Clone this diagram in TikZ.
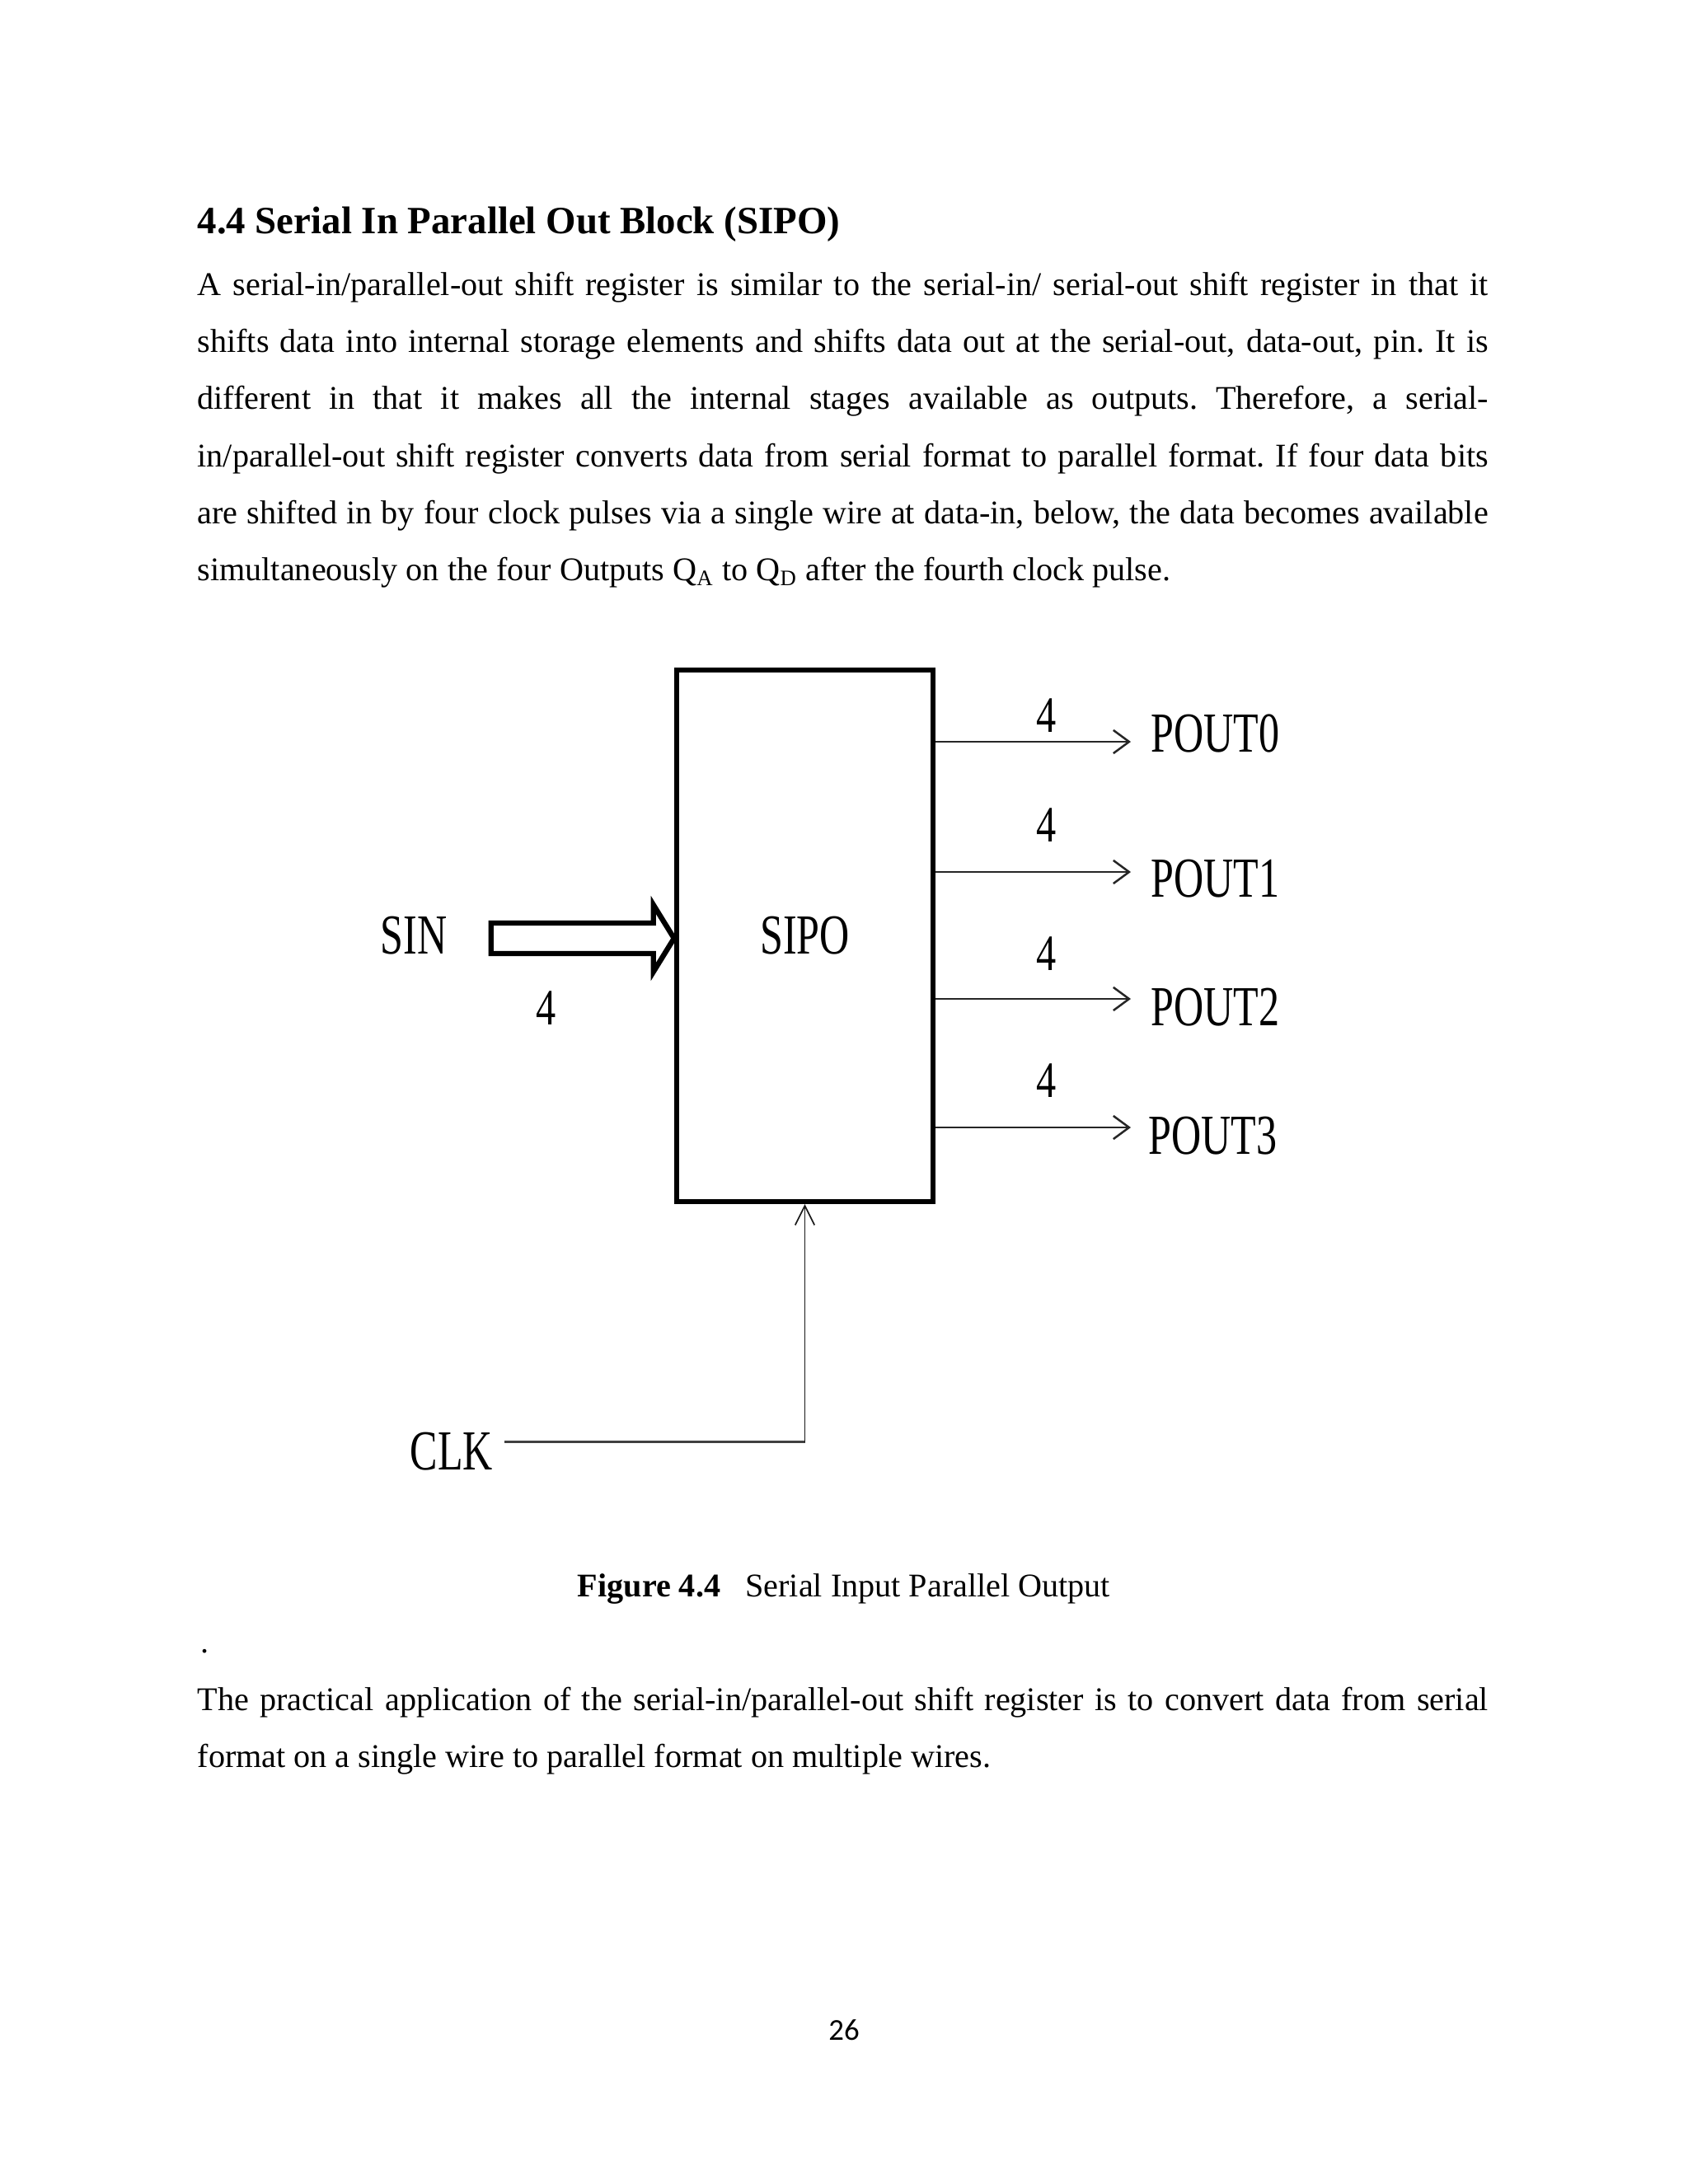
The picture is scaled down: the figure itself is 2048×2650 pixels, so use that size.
\documentclass[tikz,border=0pt]{standalone}
\usepackage{fontspec}
\usepackage{graphicx}
\setmainfont{Liberation Serif}
\newfontfamily\pagenumfont{Carlito}
\usetikzlibrary{arrows.meta}
\frenchspacing
\newcommand{\dglabel}[1]{{\fontsize{20.5}{20.5}\selectfont\scalebox{0.73}[1]{#1}}}
\newcommand{\dgnum}[1]{{\fontsize{18.5}{18.5}\selectfont\scalebox{0.78}[1]{#1}}}
\newcommand{\jline}[1]{\makebox[468pt][s]{#1}}
\tikzset{
  bodytext/.style={anchor=base west, inner sep=0pt, font=\fontsize{12}{14}\selectfont},
  headtext/.style={anchor=base west, inner sep=0pt, font=\fontsize{14}{16}\selectfont\bfseries},
  lbl/.style={anchor=base, inner sep=0pt},
  lblw/.style={anchor=base west, inner sep=0pt},
  blockbox/.style={draw, line width=1.9pt, minimum width=92.94pt, minimum height=192.75pt, inner sep=0pt},
  fatarrow/.style={draw, fill=white, line width=1.9pt, line join=miter},
  outwire/.style={draw=black!85, line width=0.75pt, -{Straight Barb[length=5.7pt, width=8.4pt]}},
  clkh/.style={draw=black!75, line width=1pt},
  clkv/.style={draw=black!90, line width=0.5pt, -{Straight Barb[length=7pt, width=7pt]}}
}
\begin{document}
\begin{tikzpicture}[x=0.29883pt, y=-0.29883pt]
\useasboundingbox (0,0) rectangle (2048,2650);
\fill[white] (0,0) rectangle (2048,2650);

% heading and paragraph
\node[headtext] (head) at (239,283) {4.4 Serial In Parallel Out Block (SIPO)};
\node[bodytext] (b1) at (239,358) {\jline{A serial-in/parallel-out shift register is similar to the serial-in/ serial-out shift register in that it}};
\node[bodytext] (b2) at (239,427) {\jline{shifts data into internal storage elements and shifts data out at the serial-out, data-out, pin. It is}};
\node[bodytext] (b3) at (239,496) {\jline{different in that it makes all the internal stages available as outputs. Therefore, a serial-}};
\node[bodytext] (b4) at (239,566) {\jline{in/parallel-out shift register converts data from serial format to parallel format. If four data bits}};
\node[bodytext] (b5) at (239,635) {\jline{are shifted in by four clock pulses via a single wire at data-in, below, the data becomes available}};
\node[bodytext] (b6) at (239,704) {simultaneously on the four Outputs Q\textsubscript{A} to Q\textsubscript{D} after the fourth clock pulse.};

% diagram
\node[blockbox] (sipo) at (976.5,1135.5) {\dglabel{SIPO}};
\node[lbl] (sin) at (502,1157) {\dglabel{SIN}};
\node[lbl] (sinw) at (663,1243) {\dgnum{4}};
\draw[fatarrow] ([yshift=-0.9pt]sipo.west) -- ++(-25,-40.5) -- ++(0,22) -- ++(-197,0) -- ++(0,37) -- ++(197,0) -- ++(0,22) -- cycle;

\coordinate (t0) at (1372,900);
\coordinate (t1) at (1372,1058);
\coordinate (t2) at (1372,1212);
\coordinate (t3) at (1372,1368);
\draw[outwire] (t0 -| sipo.east) -- (t0);
\draw[outwire] (t1 -| sipo.east) -- (t1);
\draw[outwire] (t2 -| sipo.east) -- (t2);
\draw[outwire] (t3 -| sipo.east) -- (t3);
\node[lbl] (w0) at (1270,888) {\dgnum{4}};
\node[lbl] (w1) at (1270,1021) {\dgnum{4}};
\node[lbl] (w2) at (1270,1177) {\dgnum{4}};
\node[lbl] (w3) at (1270,1331) {\dgnum{4}};
\node[lblw] (p0) at (1396,912) {\dglabel{POUT0}};
\node[lblw] (p1) at (1396,1088) {\dglabel{POUT1}};
\node[lblw] (p2) at (1396,1244) {\dglabel{POUT2}};
\node[lblw] (p3) at (1393,1400) {\dglabel{POUT3}};

\node[lbl] (clk) at (548,1783) {\dglabel{CLK}};
\coordinate (clkstart) at ([xshift=4pt,yshift=3.3pt]clk.east);
\coordinate (clkcorner) at (sipo.south |- clkstart);
\draw[clkh] (clkstart) -- (clkcorner);
\draw[clkv] (clkcorner) -- (sipo.south);

% caption and text below
\node[anchor=base, inner sep=0pt, font=\fontsize{12}{14}\selectfont] (cap) at (1024,1937) {\textbf{Figure 4.4}\hspace{9pt}Serial Input Parallel Output};
\node[bodytext] (dot) at (243,2005) {.};
\node[bodytext] (c1) at (239,2075) {\jline{The practical application of the serial-in/parallel-out shift register is to convert data from serial}};
\node[bodytext] (c2) at (239,2144) {format on a single wire to parallel format on multiple wires.};

\node[anchor=base, inner sep=0pt, font=\pagenumfont\fontsize{11}{13}\selectfont] (pg) at (1024,2475) {26};
\end{tikzpicture}
\end{document}
